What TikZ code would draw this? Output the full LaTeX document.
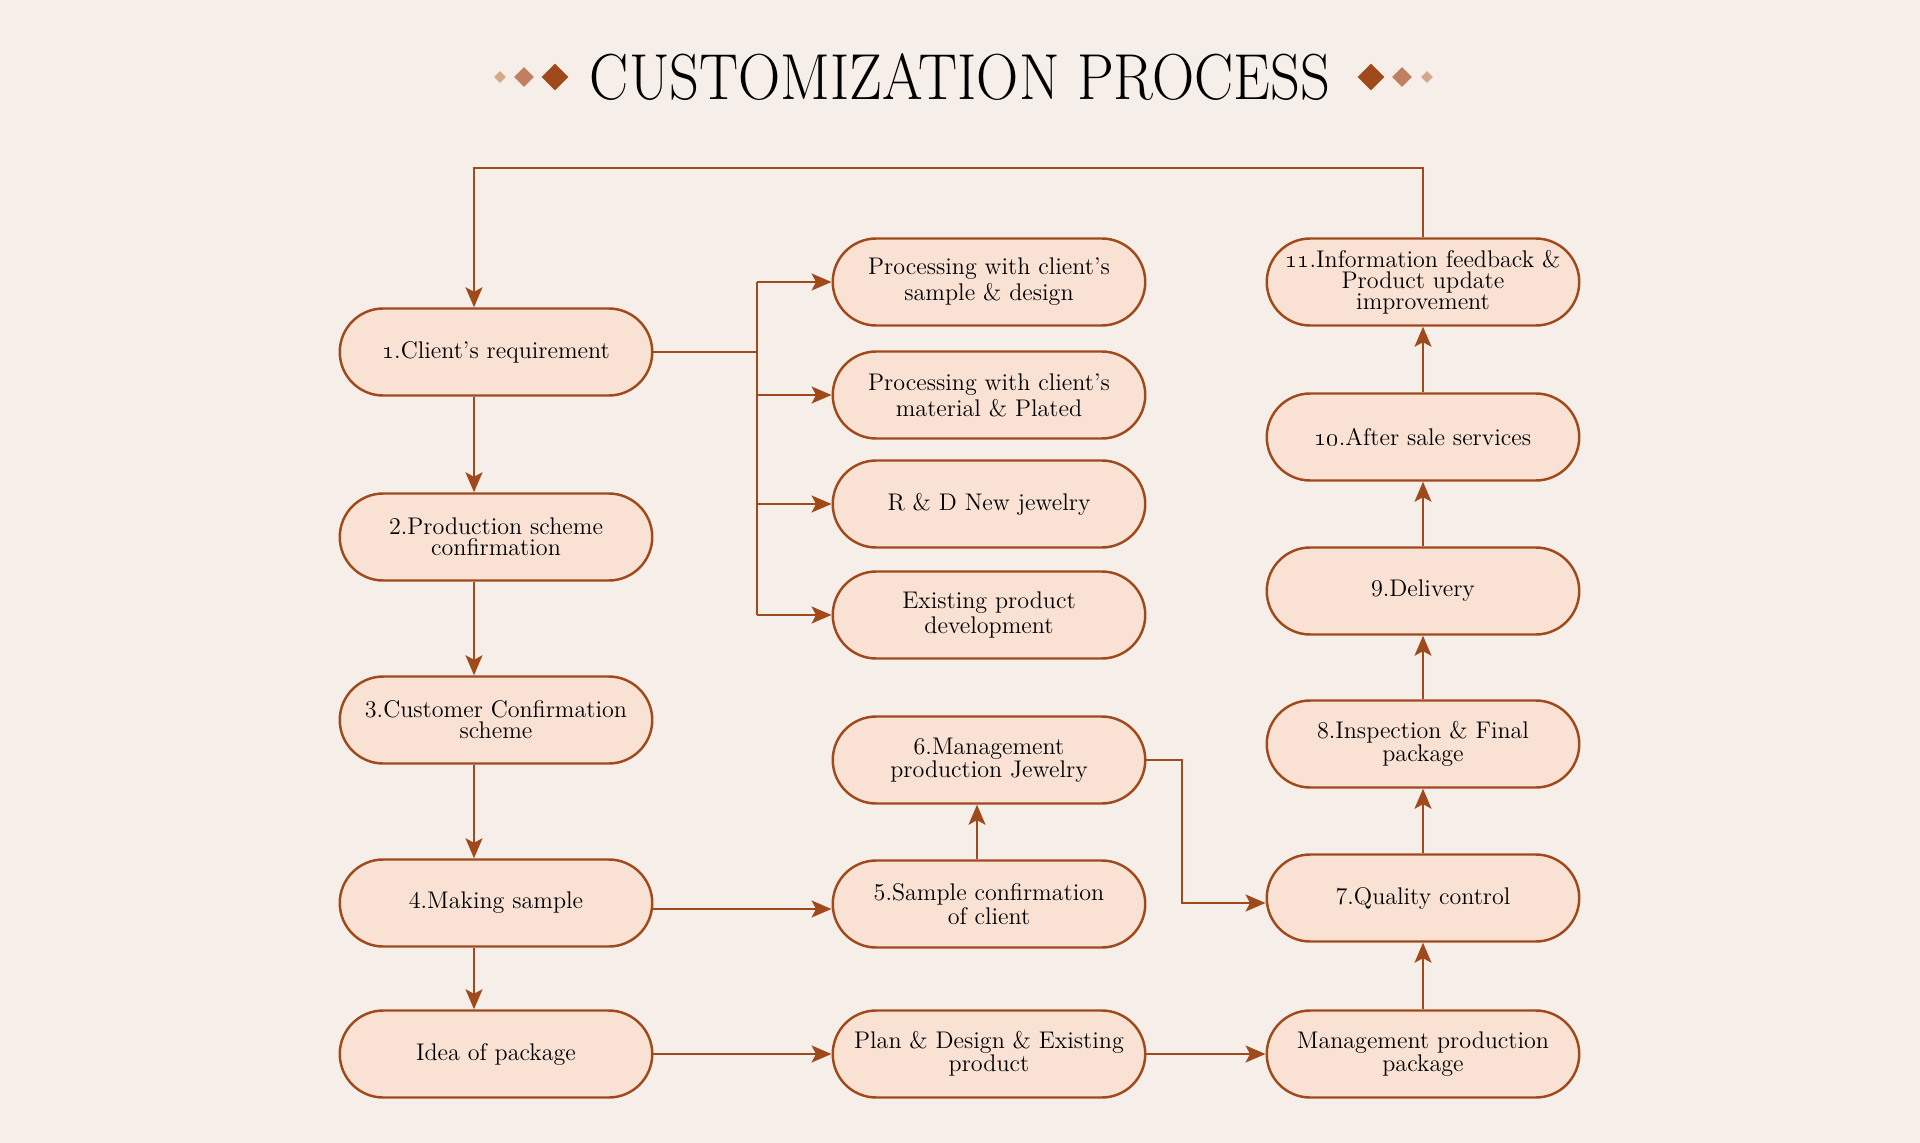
\documentclass[tikz,border=0pt]{standalone}
\usetikzlibrary{arrows.meta,shapes.misc,shapes.geometric}
\definecolor{rust}{RGB}{160,74,28}
\definecolor{peach}{RGB}{249,225,212}
\definecolor{cream}{RGB}{246,239,233}
\definecolor{tan}{RGB}{192,128,96}
\definecolor{sand}{RGB}{214,168,138}
\tikzset{stage/.style={rounded rectangle, draw=rust, line width=1.4pt, fill=peach, minimum width=63.2mm, minimum height=17.4mm, inner sep=1pt, align=center, text=black, font=\fontsize{13.7}{12}\selectfont},
  wide/.style={font=\fontsize{13.7}{14.7}\selectfont},
  flow/.style={draw=rust, line width=1.1pt, -{Stealth[length=4mm,width=3.4mm,inset=0.9mm]}},
  wire/.style={draw=rust, line width=1.1pt},
  gem/.style={diamond, inner sep=0pt, draw=none}}

\begin{document}
\begin{tikzpicture}[x=0.2mm,y=-0.2mm]
    \fill[cream] (0,0) rectangle (1920,1143);
    \useasboundingbox (0,0) rectangle (1920,1143);
    % title
    \node[transform shape, xscale=0.9, font=\fontsize{37}{37}\selectfont] (title) at (960,77) {CUSTOMIZATION PROCESS};
    \node[gem, fill=sand, minimum size=12*0.2mm] (g1) at (500,77) {};
    \node[gem, fill=tan, minimum size=20*0.2mm] (g2) at (524,77) {};
    \node[gem, fill=rust, minimum size=27*0.2mm] (g3) at (555,77) {};
    \node[gem, fill=rust, minimum size=27*0.2mm] (g4) at (1371,77) {};
    \node[gem, fill=tan, minimum size=20*0.2mm] (g5) at (1402,77) {};
    \node[gem, fill=sand, minimum size=12*0.2mm] (g6) at (1427,77) {};
    % left column
    \node[stage] (req) at (496,352) {\oldstylenums{1}.Client's requirement};
    \node[stage] (scheme) at (496,537) {2.Production scheme\\confirmation};
    \node[stage] (confirm) at (496,720) {3.Customer Confirmation\\scheme};
    \node[stage] (sample) at (496,903) {4.Making sample};
    \node[stage] (idea) at (496,1054) {Idea of package};
    % middle column
    \node[stage,wide] (bysample) at (989,282) {Processing with client's\\sample \& design};
    \node[stage,wide] (bymaterial) at (989,395) {Processing with client's\\material \& Plated};
    \node[stage] (rnd) at (989,504) {R \& D New jewelry};
    \node[stage,wide] (existing) at (989,615) {Existing product\\development};
    \node[stage] (mgmt) at (989,760) {6.Management\\production Jewelry};
    \node[stage] (approve) at (989,904) {5.Sample confirmation\\of client};
    \node[stage] (plan) at (989,1054) {Plan \& Design \& Existing\\product};
    % right column
    \node[stage] (feedback) at (1423,282) {\oldstylenums{11}.Information feedback \&\\Product update\\improvement};
    \node[stage] (service) at (1423,437) {\oldstylenums{10}.After sale services};
    \node[stage] (delivery) at (1423,591) {9.Delivery};
    \node[stage] (inspect) at (1423,744) {8.Inspection \& Final\\package};
    \node[stage] (quality) at (1423,898) {7.Quality control};
    \node[stage] (pkg) at (1423,1054) {Management production\\package};
    % helper coordinates
    \coordinate (trunk) at (474,0);
    \coordinate (top) at (0,168);
    \coordinate (bus) at (757,0);
    \coordinate (drop) at (1182,0);
    \coordinate (lift) at (977,0);
    % connectors
    \draw[flow] (feedback.north) |- (trunk|-top) -- (req.north-|trunk);
    \draw[flow] (req.south-|trunk) -- (scheme.north-|trunk);
    \draw[flow] (scheme.south-|trunk) -- (confirm.north-|trunk);
    \draw[flow] (confirm.south-|trunk) -- (sample.north-|trunk);
    \draw[flow] (sample.south-|trunk) -- (idea.north-|trunk);
    \draw[wire] (req.east) -- (req.east-|bus);
    \draw[wire] (bus|-bysample.west) -- (bus|-existing.west);
    \foreach \n in {bysample,bymaterial,rnd,existing}
        \draw[flow] (bus|-\n.west) -- (\n.west);
    \draw[flow] ([yshift=-1mm]sample.east|-approve.west) -- ([yshift=-1mm]approve.west);
    \draw[flow] (approve.north-|lift) -- (mgmt.south-|lift);
    \draw[flow] (mgmt.east) -| ([yshift=-1mm]drop|-quality.west) -- ([yshift=-1mm]quality.west);
    \draw[flow] (idea.east) -- (plan.west);
    \draw[flow] (plan.east) -- (pkg.west);
    \draw[flow] (pkg.north) -- (quality.south);
    \draw[flow] (quality.north) -- (inspect.south);
    \draw[flow] (inspect.north) -- (delivery.south);
    \draw[flow] (delivery.north) -- (service.south);
    \draw[flow] (service.north) -- (feedback.south);
\end{tikzpicture}
\end{document}
